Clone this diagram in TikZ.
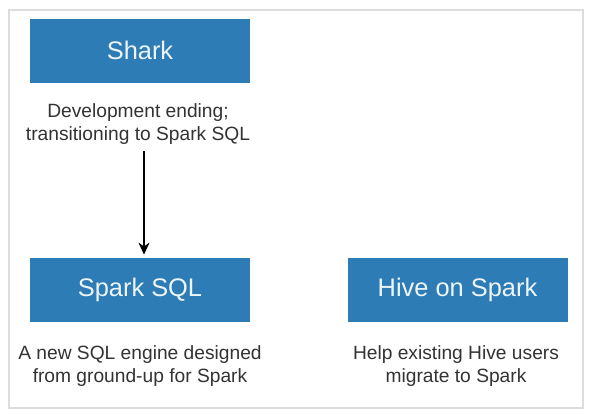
\documentclass[tikz,border=0pt]{standalone}
\usepackage{fontspec}
\setmainfont{Liberation Sans}
\usetikzlibrary{arrows.meta}
\definecolor{sparkblue}{HTML}{2E7CB5}
\definecolor{notegray}{HTML}{333333}
\definecolor{framegray}{HTML}{DDDDDD}

\begin{document}
\begin{tikzpicture}[x=0.5pt,y=-0.5pt,
  projbox/.style={fill=sparkblue,minimum width=110pt,minimum height=32pt,inner sep=0pt,
    text=white!92!sparkblue,font=\fontsize{12.7}{15}\selectfont},
  note/.style={align=center,text=notegray,inner sep=1pt,font=\fontsize{9.6}{11.6}\selectfont}]
\useasboundingbox[fill=white] (0,0) rectangle (594,414);
\draw[framegray,line width=0.6pt] (9,10) rectangle (583,408);
\node[projbox] (shark) at (140,50.5) {Shark};
\node[note] (sharknote) at (138,124) {Development ending;\\transitioning to Spark SQL};
\node[projbox] (sparksql) at (140,290) {Spark SQL};
\node[note] (sparksqlnote) at (140,366) {A new SQL engine designed\\from ground-up for Spark};
\node[projbox] (hive) at (457.5,290) {Hive on Spark};
\node[note] (hivenote) at (456,366) {Help existing Hive users\\migrate to Spark};
\draw[line width=0.7pt,-{Stealth[length=6pt,width=5.5pt]}]
  ([xshift=3pt,yshift=-2pt]sharknote.south) -- ([xshift=2pt,yshift=1.5pt]sparksql.north);
\end{tikzpicture}
\end{document}
